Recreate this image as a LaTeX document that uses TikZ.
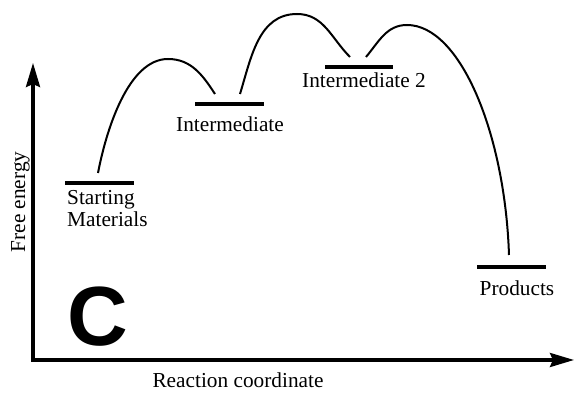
\documentclass[tikz,border=0pt]{standalone}
\usepackage{fontspec}
\setmainfont{Liberation Serif}
\newfontfamily\labelsans{Liberation Sans}
\usetikzlibrary{arrows.meta}

\begin{document}
\begin{tikzpicture}[x=1pt, y=1pt,
    axis/.style={line width=3.2pt, {Stealth[length=24pt,width=14pt,inset=3pt]}-{Stealth[length=24pt,width=14pt,inset=3pt]}},
    level/.style={line width=3.4pt},
    profile/.style={line width=2pt},
    lbl/.style={inner sep=0pt, font=\fontsize{21.3}{22.5}\selectfont}]
\useasboundingbox (0,0) rectangle (574,393);

% axes
\coordinate (ytip) at (33,330);
\coordinate (origin) at (33,33);
\coordinate (xtip) at (574,33);
\draw [axis] (ytip) -- (origin) -- (xtip);
\node [lbl, rotate=90, anchor=base] (yname) at (25,191) {Free energy};
\node [lbl, anchor=base] (xname) at (238,5) {Reaction coordinate};

% energy levels
\coordinate (sm1) at (65,210);  \coordinate (sm2) at (134,210);
\coordinate (in1) at (195,289); \coordinate (in2) at (264,289);
\coordinate (it1) at (325,326); \coordinate (it2) at (393,326);
\coordinate (pr1) at (477,126); \coordinate (pr2) at (546,126);
\draw [level] (sm1) -- (sm2);
\draw [level] (in1) -- (in2);
\draw [level] (it1) -- (it2);
\draw [level] (pr1) -- (pr2);

\node [lbl, anchor=base west, align=left] (smtext) at (67,166) {Starting\\Materials};
\node [lbl, anchor=base] (intext) at (230,261) {Intermediate};
\node [lbl, anchor=base] (ittext) at (364,305) {Intermediate 2};
\node [lbl, anchor=base] (prtext) at (517,97) {Products};

% reaction profile
\coordinate (a0) at (98,220);
\coordinate (ts1) at (168,334);
\coordinate (a1) at (215,299);
\coordinate (b0) at (240,299);
\coordinate (ts2) at (297,379);
\coordinate (b1) at (350,336);
\coordinate (c0) at (366,336);
\coordinate (ts3) at (407,368);
\coordinate (c1) at (509,138);
\draw [profile] (a0) .. controls (106,262) and (128,334) .. (ts1) to[out=0, in=123] (a1);
\draw [profile] (b0) to[out=73, in=180] (ts2) to[out=0, in=135] (b1);
\draw [profile] (c0) to[out=50, in=180] (ts3) .. controls (460,368) and (505,260) .. (c1);

\node [font=\labelsans\bfseries\fontsize{84}{84}\selectfont, inner sep=0pt, anchor=base west] (panel) at (67,47) {C};
\end{tikzpicture}
\end{document}
